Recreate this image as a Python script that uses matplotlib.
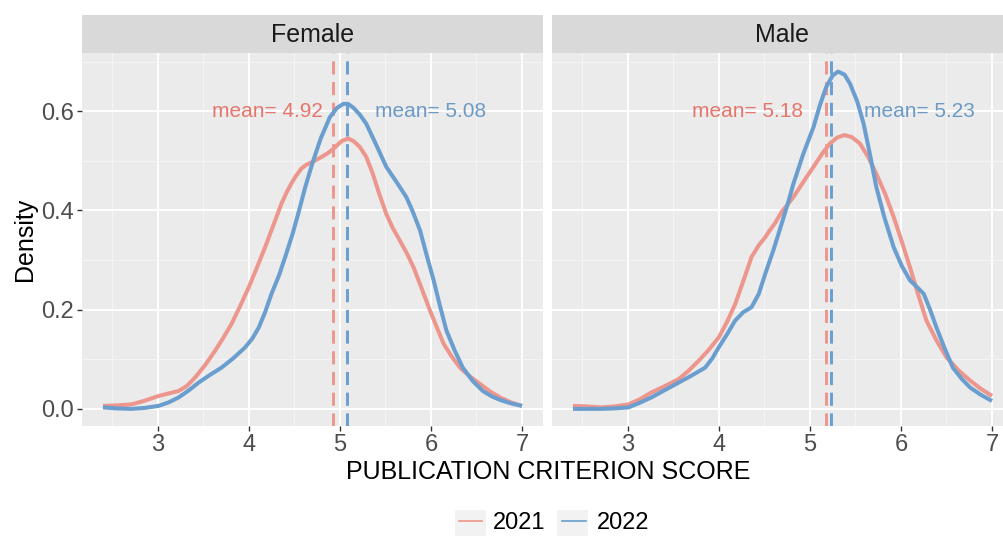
import matplotlib
matplotlib.use("Agg")
import matplotlib.pyplot as plt
from matplotlib.lines import Line2D
from matplotlib.patches import Rectangle

plt.rcParams['font.family'] = ['Liberation Sans', 'DejaVu Sans']

# ===============================
# DATA
# ===============================
panels = ["Female", "Male"]
years = ["2021", "2022"]

fem_2021_x = [2.40, 2.55, 2.71, 2.85, 3.01, 3.12, 3.23, 3.32, 3.41, 3.52, 3.63, 3.72, 3.81, 3.90,
              4.00, 4.09, 4.18, 4.27, 4.36, 4.42, 4.47, 4.52, 4.58, 4.64, 4.70, 4.80, 4.88, 4.95,
              5.02, 5.09, 5.15, 5.22, 5.29, 5.36, 5.43, 5.51, 5.58, 5.66, 5.74, 5.81, 5.90, 5.99,
              6.07, 6.14, 6.23, 6.32, 6.43, 6.54, 6.65, 6.76, 6.88, 7.00]
fem_2021_y = [0.006, 0.007, 0.009, 0.016, 0.026, 0.031, 0.036, 0.046, 0.063, 0.088, 0.117, 0.143,
              0.171, 0.205, 0.245, 0.285, 0.326, 0.370, 0.414, 0.438, 0.455, 0.470, 0.485, 0.493,
              0.498, 0.508, 0.517, 0.528, 0.540, 0.545, 0.540, 0.528, 0.508, 0.475, 0.435, 0.393,
              0.365, 0.339, 0.312, 0.285, 0.242, 0.198, 0.162, 0.131, 0.105, 0.083, 0.065, 0.050,
              0.035, 0.023, 0.013, 0.006]

fem_2022_x = [2.40, 2.55, 2.71, 2.86, 3.01, 3.12, 3.23, 3.34, 3.45, 3.57, 3.70, 3.83, 3.96, 4.04,
              4.11, 4.18, 4.25, 4.33, 4.40, 4.48, 4.55, 4.62, 4.70, 4.79, 4.89, 4.97, 5.04, 5.09,
              5.15, 5.22, 5.29, 5.40, 5.51, 5.62, 5.73, 5.80, 5.88, 5.95, 6.03, 6.10, 6.17, 6.26,
              6.35, 6.46, 6.57, 6.67, 6.76, 6.88, 7.00]
fem_2022_y = [0.003, 0.001, 0.000, 0.002, 0.006, 0.013, 0.023, 0.037, 0.053, 0.068, 0.083, 0.102,
              0.124, 0.142, 0.164, 0.195, 0.232, 0.268, 0.306, 0.352, 0.398, 0.447, 0.496, 0.545,
              0.588, 0.607, 0.615, 0.615, 0.607, 0.593, 0.575, 0.532, 0.488, 0.458, 0.427, 0.398,
              0.360, 0.312, 0.259, 0.207, 0.158, 0.118, 0.083, 0.056, 0.036, 0.025, 0.018, 0.011,
              0.006]

male_2021_x = [2.40, 2.55, 2.71, 2.86, 3.01, 3.13, 3.26, 3.41, 3.56, 3.67, 3.78, 3.89, 4.00, 4.09,
               4.18, 4.27, 4.36, 4.44, 4.51, 4.56, 4.62, 4.69, 4.76, 4.82, 4.93, 5.04, 5.13, 5.22,
               5.30, 5.38, 5.46, 5.55, 5.64, 5.73, 5.83, 5.92, 6.01, 6.10, 6.19, 6.28, 6.39, 6.50,
               6.63, 6.76, 6.88, 7.00]
male_2021_y = [0.006, 0.005, 0.003, 0.005, 0.009, 0.019, 0.033, 0.046, 0.060, 0.077, 0.097, 0.119,
               0.144, 0.175, 0.211, 0.258, 0.306, 0.330, 0.346, 0.360, 0.375, 0.397, 0.413, 0.427,
               0.458, 0.488, 0.513, 0.535, 0.547, 0.552, 0.548, 0.535, 0.508, 0.474, 0.432, 0.387,
               0.337, 0.285, 0.230, 0.178, 0.138, 0.104, 0.078, 0.057, 0.040, 0.026]

male_2022_x = [2.40, 2.71, 2.86, 3.01, 3.13, 3.26, 3.41, 3.56, 3.70, 3.85, 3.93, 4.00, 4.09, 4.18,
               4.27, 4.36, 4.44, 4.51, 4.60, 4.69, 4.76, 4.82, 4.93, 5.04, 5.11, 5.18, 5.25, 5.31,
               5.38, 5.44, 5.52, 5.59, 5.66, 5.73, 5.82, 5.92, 6.01, 6.10, 6.18, 6.25, 6.32, 6.39,
               6.48, 6.57, 6.67, 6.76, 6.88, 7.00]
male_2022_y = [0.000, 0.000, 0.001, 0.003, 0.012, 0.023, 0.038, 0.053, 0.067, 0.083, 0.102, 0.124,
               0.150, 0.178, 0.195, 0.205, 0.232, 0.272, 0.320, 0.373, 0.415, 0.454, 0.515, 0.568,
               0.612, 0.649, 0.672, 0.680, 0.674, 0.656, 0.620, 0.575, 0.513, 0.447, 0.385, 0.326,
               0.288, 0.259, 0.245, 0.232, 0.200, 0.164, 0.122, 0.083, 0.060, 0.043, 0.028, 0.016]

means = {"Female": [4.92, 5.08], "Male": [5.18, 5.23]}

curves = {
    "Female": [(fem_2021_x, fem_2021_y), (fem_2022_x, fem_2022_y)],
    "Male": [(male_2021_x, male_2021_y), (male_2022_x, male_2022_y)],
}

# ===============================
# STYLE
# ===============================
line_cols = ["#EC968D", "#6A9ECF"]
text_cols = ["#E5766C", "#6C9AC6"]
W, H = 1004, 536
# label offsets from the mean line (x data units), 2021 to the left, 2022 to the right
label_dx = {"Female": (-0.11, 0.31), "Male": (-0.26, 0.36)}

fig = plt.figure(figsize=(W / 100, H / 100), dpi=100)

panel_left = [82, 552]
panel_w = 461
panel_top, panel_bot = 53, 426
strip_top = 15

for i, name in enumerate(panels):
    x0 = panel_left[i]
    ax = fig.add_axes([x0 / W, (H - panel_bot) / H, panel_w / W, (panel_bot - panel_top) / H])
    ax.set_facecolor("#EBEBEB")
    for s in ax.spines.values():
        s.set_visible(False)
    ax.set_xlim(2.17, 7.23)
    ax.set_ylim(-0.0345, 0.7175)
    ax.set_xticks([3, 4, 5, 6, 7])
    ax.set_xticks([2.5, 3.5, 4.5, 5.5, 6.5], minor=True)
    ax.set_yticks([0.0, 0.2, 0.4, 0.6])
    ax.set_yticks([0.1, 0.3, 0.5, 0.7], minor=True)
    ax.grid(which="major", color="white", linewidth=1.4)
    ax.grid(which="minor", color="#F5F5F5", linewidth=0.7)
    ax.set_axisbelow(True)
    ax.tick_params(which="major", length=3.5, width=1.0, color="#333333",
                   labelsize=17, labelcolor="#4D4D4D", pad=2)
    ax.tick_params(which="minor", length=0)
    if i == 0:
        ax.set_yticklabels(["0.0", "0.2", "0.4", "0.6"])
        ax.set_ylabel("Density", fontsize=18, labelpad=3)
    else:
        ax.set_yticklabels([])
        ax.tick_params(axis="y", which="major", length=0)

    for j in range(2):
        cx, cy = curves[name][j]
        ax.plot(cx, cy, color=line_cols[j], linewidth=2.9, solid_capstyle="butt",
                solid_joinstyle="round", zorder=3)
        ax.axvline(means[name][j], color=line_cols[j], linewidth=2.1,
                   linestyle=(0, (4.5, 2.6)), zorder=2)

    m21, m22 = means[name]
    ax.text(m21 + label_dx[name][0], 0.6, f"mean= {m21:.2f}", color=text_cols[0],
            fontsize=15, ha="right", va="center", zorder=4)
    ax.text(m22 + label_dx[name][1], 0.6, f"mean= {m22:.2f}", color=text_cols[1],
            fontsize=15, ha="left", va="center", zorder=4)

    # facet strip
    sax = fig.add_axes([x0 / W, (H - panel_top) / H, panel_w / W, (panel_top - strip_top) / H])
    sax.set_facecolor("#D9D9D9")
    sax.set_xticks([])
    sax.set_yticks([])
    for s in sax.spines.values():
        s.set_visible(False)
    sax.text(0.5, 0.47, name, transform=sax.transAxes, ha="center", va="center",
             fontsize=18, color="#1A1A1A")

fig.text(548 / W, 1 - 472 / H, "PUBLICATION CRITERION SCORE", ha="center", va="center",
         fontsize=18, color="black")

# legend
handles = [Line2D([0], [0], color=c, linewidth=1.2) for c in line_cols]
for kx in [455, 557]:
    fig.patches.append(Rectangle((kx / W, 0), 31 / W, 26 / H, transform=fig.transFigure,
                                 facecolor="#F2F2F2", edgecolor="none", zorder=0))
fig.legend(handles, years, loc="center", bbox_to_anchor=(554 / W, 1 - 523 / H), ncol=2,
           frameon=False, fontsize=17, handlelength=1.0, handletextpad=0.47,
           columnspacing=0.7, borderpad=0)

plt.savefig("out.png", dpi=100)
